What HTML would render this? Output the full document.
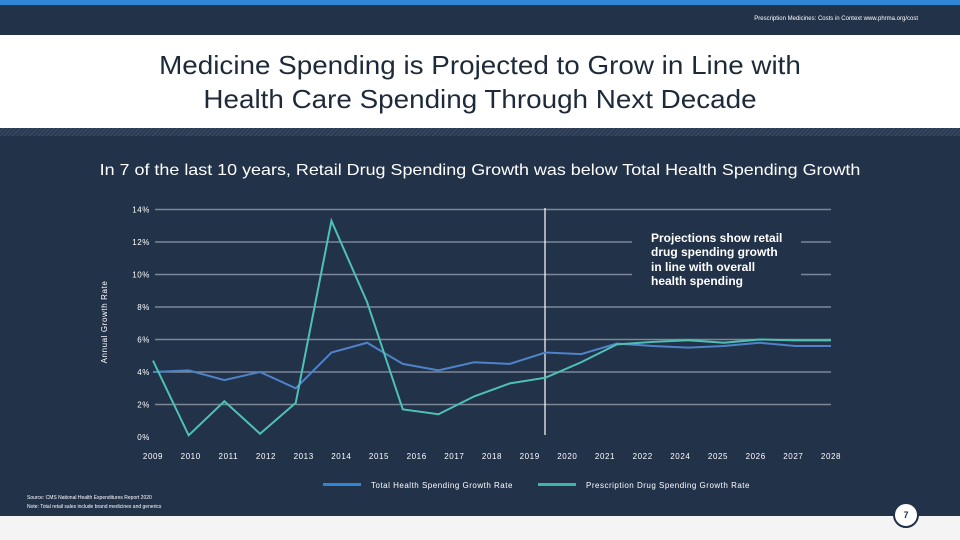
<!DOCTYPE html>
<html><head><meta charset="utf-8"><style>
body{margin:0;width:960px;height:540px;overflow:hidden;font-family:"Liberation Sans",sans-serif;background:#f4f4f4;position:relative}
div{position:absolute}
</style></head><body>
<div style="left:0;top:0;width:960px;height:5px;background:#2f86d4"></div>
<div style="left:0;top:5px;width:960px;height:30px;background:#213249"></div>
<div style="left:700px;top:16px;width:218px;text-align:right;font-size:6px;color:#fff;white-space:nowrap">Prescription Medicines: Costs in Context www.phrma.org/cost</div>
<div style="left:0;top:35px;width:960px;height:93px;background:#fff"></div>
<div style="left:0;top:48px;width:960px;text-align:center;font-size:26px;line-height:34px;color:#1e2a3a;transform:scaleX(1.07)">Medicine Spending is Projected to Grow in Line with<br>Health Care Spending Through Next Decade</div>
<div style="left:0;top:128px;width:960px;height:8px;background:repeating-linear-gradient(135deg,#2a3a52 0 2px,#3d4c62 2px 3px)"></div>
<div style="left:0;top:136px;width:960px;height:380px;background:#213249"></div>
<div style="left:0;top:162px;width:960px;text-align:center;font-size:16px;color:#fff;transform:scaleX(1.12)">In 7 of the last 10 years, Retail Drug Spending Growth was below Total Health Spending Growth</div>
<svg style="position:absolute;left:0;top:0" width="960" height="540" id="chart"></svg>
<div style="left:651px;top:231px;font-size:12px;font-weight:bold;line-height:14.3px;color:#fff">Projections show retail<br>drug spending growth<br>in line with overall<br>health spending</div>
<div style="left:27px;top:494px;font-size:5px;line-height:9px;color:#fff">Source: CMS National Health Expenditures Report 2020<br>Note: Total retail sales include brand medicines and generics</div>
<div style="left:893px;top:502px;width:22px;height:22px;border-radius:50%;background:#fff;border:2px solid #213249;text-align:center;line-height:22px;font-size:9px;font-weight:bold;color:#213249">7</div>
<script>
const years=["2009","2010","2011","2012","2013","2014","2015","2016","2017","2018","2019","2020","2021","2022","2023","2024","2025","2026","2027","2028"];
const xLabels=["2009","2010","2011","2012","2013","2014","2015","2016","2017","2018","2019","2020","2021","2022","2024","2025","2026","2027","2028"];
const totalHealth=[4.0,4.1,3.5,4.0,3.0,5.2,5.8,4.5,4.1,4.6,4.5,5.2,5.1,5.75,5.6,5.5,5.6,5.8,5.6,5.6];
const rxDrug=[4.7,0.1,2.2,0.2,2.1,13.3,8.3,1.7,1.4,2.5,3.3,3.65,4.6,5.7,5.85,5.95,5.8,6.0,5.95,5.95];
const yTicks=[0,2,4,6,8,10,12,14];
const NS="http://www.w3.org/2000/svg",svg=document.getElementById('chart');
const X0=153,X1=831,Y0=437,PY=16.25;
const x=i=>X0+i*(X1-X0)/(years.length-1);
const xl=i=>X0+i*(X1-X0)/(xLabels.length-1);
const y=v=>Y0-v*PY;
function mk(t,a){const e=document.createElementNS(NS,t);for(const k in a)e.setAttribute(k,a[k]);svg.appendChild(e);return e;}
yTicks.forEach(v=>{
 if(v>0){
  if(v===10||v===12){
   const g1=mk('line',{x1:155,x2:632,y1:y(v),y2:y(v),stroke:'#7d8797','stroke-width':1.5});
   
   const g2=mk('line',{x1:801,x2:831,y1:y(v),y2:y(v),stroke:'#7d8797','stroke-width':1.5});
   
  } else {
   const g=mk('line',{x1:155,x2:831,y1:y(v),y2:y(v),stroke:'#7d8797','stroke-width':1.5});
   
  }
 }
 const t=mk('text',{x:150,y:y(v)+3,'text-anchor':'end','font-size':8,'letter-spacing':0.6,fill:'#fff','font-family':'Liberation Sans'});
 t.textContent=v+'%';
 
});
xLabels.forEach((l,i)=>{
 const t=mk('text',{x:xl(i),y:459,'text-anchor':'middle','font-size':8,'letter-spacing':0.6,fill:'#fff','font-family':'Liberation Sans'});
 t.textContent=l;
 
});
const vl=mk('line',{x1:545,x2:545,y1:208,y2:435,stroke:'#fff','stroke-width':1.2});

function series(vals,col,name){
 const p=mk('polyline',{points:vals.map((v,i)=>x(i)+','+y(v)).join(' '),fill:'none',stroke:col,'stroke-width':2});
 
}
series(totalHealth,'#4f83c9','total-health-line');
series(rxDrug,'#4fc1b4','rx-drug-line');
const yt=mk('text',{x:0,y:0,transform:'translate(107,322) rotate(-90)','text-anchor':'middle','font-size':8,'letter-spacing':0.6,fill:'#fff','font-family':'Liberation Sans'});
yt.textContent='Annual Growth Rate';

const l1=mk('rect',{x:323,y:483,width:38,height:3,fill:'#2f86d4'});

const t1=mk('text',{x:371,y:488,'font-size':8,'letter-spacing':0.5,fill:'#fff','font-family':'Liberation Sans'});t1.textContent='Total Health Spending Growth Rate';

const l2=mk('rect',{x:538,y:483,width:38,height:3,fill:'#3bb6ad'});

const t2=mk('text',{x:586,y:488,'font-size':8,'letter-spacing':0.5,fill:'#fff','font-family':'Liberation Sans'});t2.textContent='Prescription Drug Spending Growth Rate';

</script>
</body></html>
